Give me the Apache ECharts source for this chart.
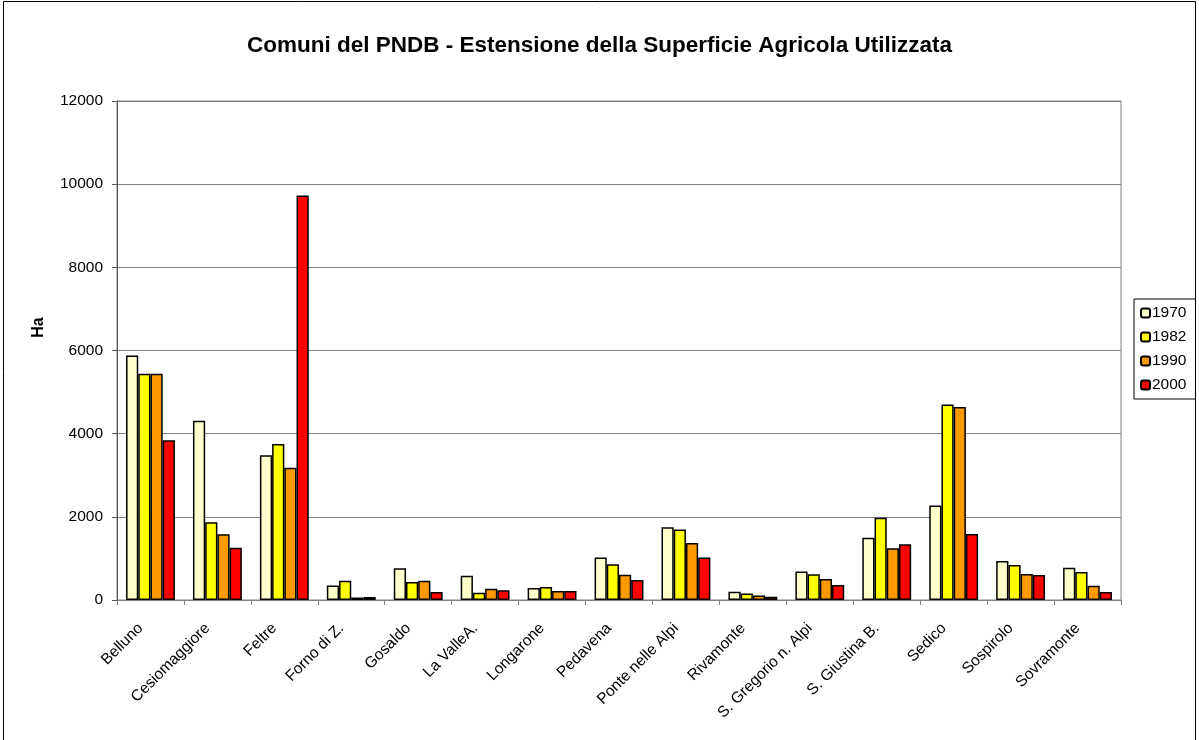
<!DOCTYPE html>
<html>
<head>
<meta charset="utf-8">
<script src="https://cdn.jsdelivr.net/npm/echarts@6/dist/echarts.min.js"></script>
<style>
  html, body { margin: 0; padding: 0; background: #fff; }
  #chart { width: 1199px; height: 740px; }
</style>
</head>
<body>
<div id="chart"></div>
<script>
  // comuni
  const comuni = ['Belluno', 'Cesiomaggiore', 'Feltre', 'Forno di Z.', 'Gosaldo', 'La ValleA.',
    'Longarone', 'Pedavena', 'Ponte nelle Alpi', 'Rivamonte', 'S. Gregorio n. Alpi',
    'S. Giustina B.', 'Sedico', 'Sospirolo', 'Sovramonte'];
  // SAU (ha) per anno
  const v1970 = [5880, 4310, 3480, 350, 765, 585, 290, 1020, 1750, 200, 685, 1500, 2270, 940, 775];
  const v1982 = [5440, 1870, 3750, 460, 430, 175, 310, 860, 1695, 155, 620, 1980, 4700, 840, 675];
  const v1990 = [5440, 1580, 3180, 60, 465, 270, 215, 610, 1370, 110, 505, 1245, 4640, 625, 345];
  const v2000 = [3840, 1255, 9730, 75, 195, 235, 215, 480, 1020, 80, 360, 1340, 1585, 600, 190];
  const anni = ['1970', '1982', '1990', '2000'];
  const colori = ['#FFFFCC', '#FFFF00', '#FF9900', '#FF0000'];
  const yTicks = [0, 2000, 4000, 6000, 8000, 10000, 12000];

  const valori = [v1970, v1982, v1990, v2000];
  const font = 'Liberation Sans, Arial, sans-serif';

  let myChart = echarts.init(document.getElementById('chart'));
  let option = {
    backgroundColor: '#fff',
    animation: false,
    title: {
      text: 'Comuni del PNDB - Estensione della Superficie Agricola Utilizzata',
      left: 'center',
      top: 29,
      textStyle: { fontFamily: font, fontSize: 22.5, fontWeight: 'bold', color: '#000' }
    },
    legend: {
      orient: 'vertical',
      left: 1134,
      top: 299,
      padding: [6, 9, 6, 6],
      itemWidth: 9,
      itemHeight: 9,
      itemGap: 8,
      borderColor: '#000',
      borderWidth: 1,
      data: anni,
      textStyle: { fontFamily: font, fontSize: 15.5, color: '#000', padding: [0, 0, 0, -3] }
    },
    graphic: [{
      type: 'rect',
      shape: { x: 3.5, y: 1.5, width: 1192, height: 760 },
      style: { fill: 'none', stroke: '#000', lineWidth: 1 },
      silent: true
    }],
    grid: { left: 117, right: 78, top: 101, bottom: 140, show: true, borderColor: '#808080', borderWidth: 1 },
    xAxis: {
      type: 'category',
      data: comuni,
      axisLine: { lineStyle: { color: '#808080', width: 1 } },
      axisTick: { show: true, length: 5, lineStyle: { color: '#808080' } },
      axisLabel: {
        rotate: 45, interval: 0, margin: 16, padding: [0, 14, 0, 0],
        fontFamily: font, fontSize: 15.5, color: '#000'
      }
    },
    yAxis: {
      type: 'value',
      min: yTicks[0],
      max: yTicks[yTicks.length - 1],
      interval: 2000,
      name: 'Ha',
      nameLocation: 'middle',
      nameGap: 70,
      nameTextStyle: { fontFamily: font, fontSize: 16, fontWeight: 'bold', color: '#000', padding: [0, 0, 0, 46] },
      axisLine: { show: true, lineStyle: { color: '#555', width: 1 } },
      axisTick: { show: true, length: 5, lineStyle: { color: '#555' } },
      axisLabel: { margin: 14, fontFamily: font, fontSize: 15.5, color: '#000', formatter: v => String(v) },
      splitLine: { lineStyle: { color: '#808080', width: 1 } }
    },
    series: anni.map((a, i) => ({
      name: a,
      type: 'bar',
      data: valori[i],
      barGap: '0%',
      barCategoryGap: '27%',
      itemStyle: { color: colori[i], borderColor: '#000', borderWidth: 1.5 }
    }))
  };
  myChart.setOption(option);
</script>
</body>
</html>
